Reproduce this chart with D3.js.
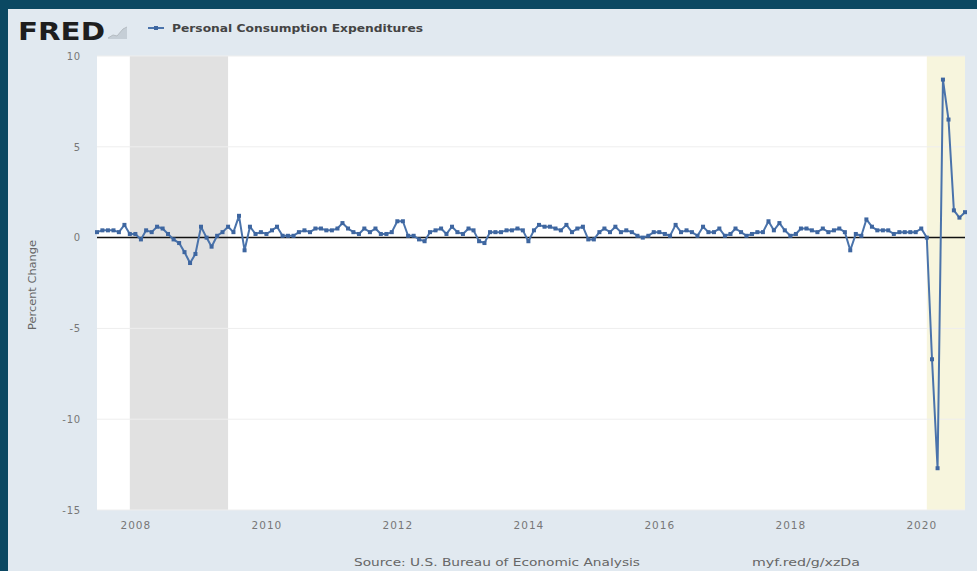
<!DOCTYPE html>
<html><head><meta charset="utf-8">
<script src="https://cdn.jsdelivr.net/npm/d3@7"></script>
<style>
html,body{margin:0;padding:0;background:#0b4862;}
svg{display:block;}
</style></head>
<body>
<svg id="chart" width="977" height="571"></svg>
<script>
// Monthly data, starting June 2007
const startMonth = "2007-06-01";
const seriesName = "Personal Consumption Expenditures";
const values = [
  // 2007 Jun-Dec
  0.3, 0.4, 0.4, 0.4, 0.3, 0.7, 0.2,
  // 2008
  0.2, -0.1, 0.4, 0.3, 0.6, 0.5, 0.2, -0.1, -0.3, -0.8, -1.4, -0.9,
  // 2009
  0.6, 0.0, -0.5, 0.1, 0.3, 0.6, 0.3, 1.2, -0.7, 0.6, 0.2, 0.3,
  // 2010
  0.2, 0.4, 0.6, 0.1, 0.1, 0.1, 0.3, 0.4, 0.3, 0.5, 0.5, 0.4,
  // 2011
  0.4, 0.5, 0.8, 0.5, 0.3, 0.2, 0.5, 0.3, 0.5, 0.2, 0.2, 0.3,
  // 2012
  0.9, 0.9, 0.1, 0.1, -0.1, -0.2, 0.3, 0.4, 0.5, 0.2, 0.6, 0.3,
  // 2013
  0.2, 0.5, 0.4, -0.2, -0.3, 0.3, 0.3, 0.3, 0.4, 0.4, 0.5, 0.4,
  // 2014
  -0.2, 0.4, 0.7, 0.6, 0.6, 0.5, 0.4, 0.7, 0.3, 0.5, 0.6, -0.1,
  // 2015
  -0.1, 0.3, 0.5, 0.3, 0.6, 0.3, 0.4, 0.3, 0.1, 0.0, 0.1, 0.3,
  // 2016
  0.3, 0.2, 0.1, 0.7, 0.3, 0.4, 0.3, 0.1, 0.6, 0.3, 0.3, 0.5,
  // 2017
  0.1, 0.2, 0.5, 0.3, 0.1, 0.2, 0.3, 0.3, 0.9, 0.4, 0.8, 0.4,
  // 2018
  0.1, 0.2, 0.5, 0.5, 0.4, 0.3, 0.5, 0.3, 0.4, 0.5, 0.3, -0.7,
  // 2019
  0.2, 0.1, 1.0, 0.6, 0.4, 0.4, 0.4, 0.2, 0.3, 0.3, 0.3, 0.3,
  // 2020 Jan-Sep
  0.5, 0.0, -6.7, -12.7, 8.7, 6.5, 1.5, 1.1, 1.4
];
const recessions = [["2007-12-01", "2009-06-01"], ["2020-02-01", "2020-09-01"]];
const recessionColors = ["#e1e1e1", "#f7f5dd"];
const yTicks = [10, 5, 0, -5, -10, -15];
const xTickYears = [2008, 2010, 2012, 2014, 2016, 2018, 2020];
const yLabel = "Percent Change";
const sourceText = "Source: U.S. Bureau of Economic Analysis";
const linkText = "myf.red/g/xzDa";

const parse = d3.timeParse("%Y-%m-%d");
const t0 = parse(startMonth);
const data = values.map((v, i) => ({date: d3.timeMonth.offset(t0, i), value: v}));
const FONT = "DejaVu Sans, Open Sans, sans-serif";

const svg = d3.select("#chart");
// frame
svg.append("rect").attr("x", 0).attr("y", 0).attr("width", 977).attr("height", 571).attr("fill", "#0b4862");
svg.append("rect").attr("x", 8).attr("y", 9).attr("width", 969).attr("height", 562).attr("fill", "#e1e9f0");

const pL = 97, pR = 965, pT = 56, pB = 510;
const x = d3.scaleTime().domain([data[0].date, data[data.length - 1].date]).range([pL, pR]);
const y = d3.scaleLinear().domain([-15, 10]).range([pB, pT]);

// plot background
svg.append("rect").attr("x", pL).attr("y", pT).attr("width", pR - pL).attr("height", pB - pT).attr("fill", "#ffffff");

// recessions
svg.selectAll("rect.rec").data(recessions).join("rect").attr("class", "rec")
  .attr("x", d => x(parse(d[0])))
  .attr("width", d => x(parse(d[1])) - x(parse(d[0])))
  .attr("y", pT).attr("height", pB - pT)
  .attr("fill", (d, i) => recessionColors[i]);

// gridlines
svg.append("g").selectAll("line").data(yTicks).join("line")
  .attr("x1", pL).attr("x2", pR).attr("y1", d => y(d)).attr("y2", d => y(d))
  .attr("stroke", "#eeeeee").attr("stroke-width", 1);

// y axis labels
const yAxis = d3.axisLeft(y).tickValues(yTicks).tickFormat(d => String(d)).tickSize(0).tickPadding(0);
const yg = svg.append("g").attr("transform", `translate(${pL - 16},0)`).call(yAxis);
yg.select(".domain").remove();
yg.selectAll("text").attr("font-family", FONT).attr("font-size", 10).attr("letter-spacing", 0.8).attr("fill", "#777");

// x axis labels
const xAxis = d3.axisBottom(x).tickValues(xTickYears.map(yr => new Date(yr, 0, 1))).tickFormat(d3.timeFormat("%Y")).tickSize(0).tickPadding(0);
const xg = svg.append("g").attr("transform", `translate(0,${pB + 12})`).call(xAxis);
xg.select(".domain").remove();
xg.selectAll("text").attr("font-family", FONT).attr("font-size", 10.5).attr("letter-spacing", 1).attr("fill", "#777");

// zero line
svg.append("line").attr("x1", pL).attr("x2", pR).attr("y1", y(0)).attr("y2", y(0))
  .attr("stroke", "#111").attr("stroke-width", 1.5);

// series line
const line = d3.line().x(d => x(d.date)).y(d => y(d.value));
svg.append("path").datum(data).attr("d", line).attr("fill", "none")
  .attr("stroke", "#4a73ab").attr("stroke-width", 2).attr("stroke-linejoin", "round");
svg.append("g").selectAll("rect").data(data).join("rect")
  .attr("x", d => x(d.date) - 2).attr("y", d => y(d.value) - 2)
  .attr("width", 4).attr("height", 4).attr("fill", "#3e66a0");

// y label
svg.append("text").attr("transform", `translate(36,285) rotate(-90)`).attr("text-anchor", "middle")
  .attr("font-family", FONT).attr("font-size", 10).attr("fill", "#666")
  .attr("textLength", 90).attr("lengthAdjust", "spacingAndGlyphs").text(yLabel);

// FRED logo
svg.append("text").attr("x", 18).attr("y", 40).attr("font-family", "DejaVu Sans, Liberation Sans, sans-serif")
  .attr("font-weight", "bold").attr("font-size", 25).attr("fill", "#1e1e1e")
  .attr("textLength", 87).attr("lengthAdjust", "spacingAndGlyphs").text("FRED");
// small graph icon
const icon = svg.append("g").attr("transform", "translate(108,27)");
icon.append("path").attr("d", "M0,11 L5,8 L9,9 L15,2 L19,0 L19,12 L0,12 Z").attr("fill", "#c5ced6");
icon.append("path").attr("d", "M0,11 L5,8 L9,9 L15,2 L19,0").attr("fill", "none").attr("stroke", "#b5bcc2").attr("stroke-width", 1);

// legend
svg.append("line").attr("x1", 148).attr("x2", 164).attr("y1", 28).attr("y2", 28).attr("stroke", "#4a73ab").attr("stroke-width", 2);
svg.append("rect").attr("x", 154).attr("y", 26).attr("width", 4).attr("height", 4).attr("fill", "#3e66a0");
svg.append("text").attr("x", 172).attr("y", 32).attr("font-family", FONT)
  .attr("font-weight", "bold").attr("font-size", 10.5).attr("fill", "#444")
  .attr("textLength", 251).attr("lengthAdjust", "spacingAndGlyphs").text(seriesName);

// footer
svg.append("text").attr("x", 497).attr("y", 566).attr("text-anchor", "middle")
  .attr("font-family", FONT).attr("font-size", 10.5).attr("fill", "#666")
  .attr("textLength", 286).attr("lengthAdjust", "spacingAndGlyphs").text(sourceText);
svg.append("text").attr("x", 806).attr("y", 566).attr("text-anchor", "middle")
  .attr("font-family", FONT).attr("font-size", 10.5).attr("fill", "#666")
  .attr("textLength", 108).attr("lengthAdjust", "spacingAndGlyphs").text(linkText);
</script>
</body></html>
